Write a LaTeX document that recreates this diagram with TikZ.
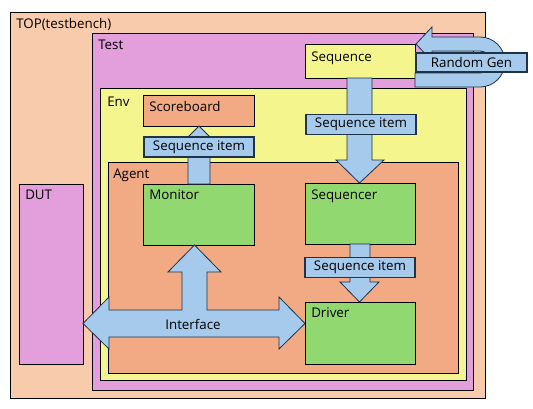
\documentclass[tikz,border=0pt]{standalone}
\usepackage{fontspec}
\setmainfont{Open Sans}
\usepackage{xcolor}
\usetikzlibrary{positioning}

\definecolor{topfill}{HTML}{F8CBAD}
\definecolor{testfill}{HTML}{E39FDC}
\definecolor{envfill}{HTML}{F4F58D}
\definecolor{agentfill}{HTML}{F2AA84}
\definecolor{unitfill}{HTML}{91D871}
\definecolor{itemfill}{HTML}{A6CAEC}
\definecolor{itemline}{HTML}{1E3248}
\newcommand\pxu{0.75pt}

\begin{document}
\begin{tikzpicture}[x=0.75pt,y=-0.75pt,
    every node/.style={font=\fontsize{10}{12}\selectfont},
    frame/.style={draw=black,line width=1pt,anchor=north west,inner sep=0pt},
    tag/.style={anchor=base west,inner sep=0pt},
    itembox/.style={draw=itemline,fill=itemfill,line width=0.8pt,inner sep=0pt,
      minimum width=110*\pxu,minimum height=20*\pxu},
    blockarrow/.style={draw=itemline,fill=itemfill,line width=0.6pt}
  ]
    \useasboundingbox (0,0) rectangle (533,408);
    % containers
    \node[frame,fill=topfill,minimum width=475*\pxu,minimum height=386*\pxu] (top) at (10,12) {};
    \node[frame,fill=testfill,minimum width=381*\pxu,minimum height=357*\pxu] (test) at (92,33) {};
    \node[frame,fill=testfill,minimum width=64*\pxu,minimum height=180*\pxu] (dut) at (19,184) {};
    \node[frame,fill=envfill,minimum width=366*\pxu,minimum height=292*\pxu] (env) at (100,88) {};
    \node[frame,fill=agentfill,minimum width=350*\pxu,minimum height=211*\pxu] (agent) at (108,162) {};
    % blocks
    \node[frame,fill=agentfill,minimum width=111*\pxu,minimum height=31*\pxu] (scoreboard) at (143,95) {};
    \node[frame,fill=envfill,minimum width=110*\pxu,minimum height=34*\pxu] (sequence) at (305,44) {};
    \node[frame,fill=unitfill,minimum width=111*\pxu,minimum height=61*\pxu] (monitor) at (143,184) {};
    \node[frame,fill=unitfill,minimum width=110*\pxu,minimum height=61*\pxu] (sequencer) at (305,183) {};
    \node[frame,fill=unitfill,minimum width=110*\pxu,minimum height=62*\pxu] (driver) at (305,302) {};
    % titles
    \node[tag] (toptag) at ([shift={(6,16)}]top.north west) {TOP(testbench)};
    \node[tag] (testtag) at ([shift={(6,16)}]test.north west) {Test};
    \node[tag] (envtag) at ([shift={(7,18)}]env.north west) {Env};
    \node[tag] (agenttag) at ([shift={(5,16)}]agent.north west) {Agent};
    \node[tag] (duttag) at ([shift={(6,15)}]dut.north west) {DUT};
    \node[tag] (scoretag) at ([shift={(6,16)}]scoreboard.north west) {Scoreboard};
    \node[tag] (seqtag) at ([shift={(6,17)}]sequence.north west) {Sequence};
    \node[tag] (montag) at ([shift={(6,15)}]monitor.north west) {Monitor};
    \node[tag] (seqrtag) at ([shift={(6,16)}]sequencer.north west) {Sequencer};
    \node[tag] (drvtag) at ([shift={(6,15)}]driver.north west) {Driver};
    % block arrows
    \draw[blockarrow] (188,184) -- (188,148) -- (177,148) -- (199,126)
      -- (221,148) -- (210,148) -- (210,184) -- cycle;
    \draw[blockarrow] (347,78) -- (347,160) -- (336,160) -- (359.5,183)
      -- (384,160) -- (372,160) -- (372,78) -- cycle;
    \draw[blockarrow] (350,244) -- (350,282) -- (340,282) -- (359.5,302)
      -- (379,282) -- (370,282) -- (370,244) -- cycle;
    \draw[blockarrow] (83,323.5) -- (109,297) -- (109,310) -- (182,310) -- (182,272)
      -- (168,272) -- (194.5,245) -- (221,272) -- (207,272) -- (207,310)
      -- (279,310) -- (279,297) -- (305,323.5) -- (279,349) -- (279,337)
      -- (109,337) -- (109,349) -- cycle;
    \draw[blockarrow] (415,73) -- (480,73) arc[start angle=90,end angle=-90,radius=11]
      -- (432,51) -- (432,61) -- (416,44) -- (432,27) -- (432,37) -- (480,37)
      arc[start angle=-90,end angle=90,radius=25] -- (415,87) -- cycle;
    % labels
    \node[itembox] (item1) at (361,124.5) {Sequence item};
    \node[itembox] (item2) at (199,147) {Sequence item};
    \node[itembox] (item3) at (360,267.5) {Sequence item};
    \node[itembox,minimum width=111*\pxu,minimum height=19*\pxu] (rand) at (471.5,62.5) {Random Gen};
    \node (iface) at (193,324) {Interface};
  \end{tikzpicture}
\end{document}
